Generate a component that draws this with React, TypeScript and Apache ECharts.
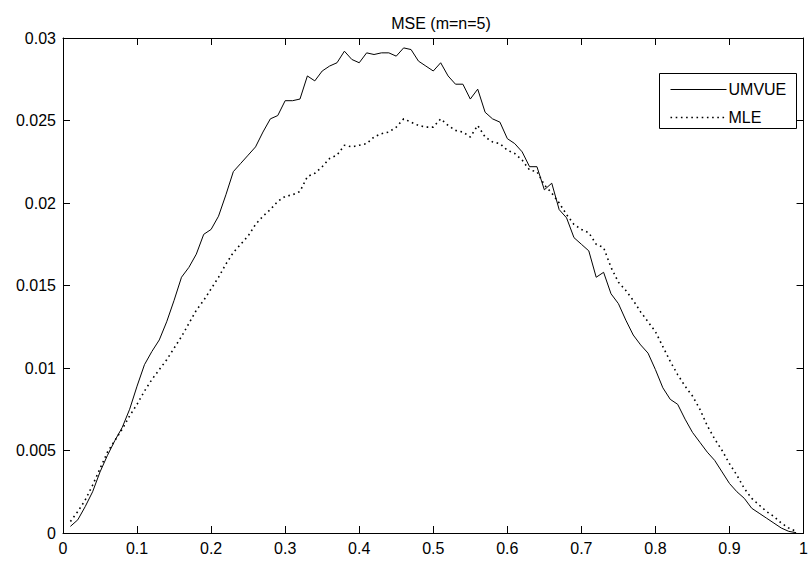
import React, { useEffect, useRef } from "react";
import * as echarts from "echarts";

const TITLE = "MSE (m=n=5)";
const SERIES_NAMES = ["UMVUE", "MLE"];
const X_TICKS = [0, 0.1, 0.2, 0.3, 0.4, 0.5, 0.6, 0.7, 0.8, 0.9, 1];
const Y_TICKS = [0, 0.005, 0.01, 0.015, 0.02, 0.025, 0.03];

// p = 0.01 .. 0.99
const UMVUE = [
  0.0004, 0.0008, 0.0016, 0.0025, 0.0037, 0.0047, 0.0056, 0.0064, 0.0075, 0.0089,
  0.0102, 0.011, 0.0117, 0.0128, 0.0141, 0.0155, 0.0161, 0.0169, 0.0181, 0.0184,
  0.0192, 0.0205, 0.0219, 0.0224, 0.0229, 0.0234, 0.0243, 0.0251, 0.0253, 0.0262,
  0.0262, 0.0263, 0.0277, 0.0274, 0.028, 0.0283, 0.0285, 0.0292, 0.0287, 0.0285,
  0.0291, 0.029, 0.0291, 0.0291, 0.0289, 0.0294, 0.0293, 0.0286, 0.0283, 0.028,
  0.0285, 0.0277, 0.0272, 0.0272, 0.0263, 0.0269, 0.0255, 0.0251, 0.0249, 0.0239,
  0.0236, 0.0231, 0.0222, 0.0222, 0.0208, 0.0212, 0.0196, 0.0191, 0.0179, 0.0175,
  0.0171, 0.0155, 0.0158, 0.0145, 0.0139, 0.0129, 0.012, 0.0114, 0.0109, 0.0099,
  0.0088, 0.0081, 0.0078, 0.0069, 0.0061, 0.0055, 0.0049, 0.0044, 0.0037, 0.003,
  0.0025, 0.0021, 0.0015, 0.0012, 0.0009, 0.0006, 0.0003, 0.0001, 0.00002,
];

const MLE = [
  0.0007, 0.0013, 0.002, 0.0029, 0.0039, 0.0049, 0.0056, 0.0063, 0.0071, 0.0078,
  0.0086, 0.0093, 0.0099, 0.0105, 0.0112, 0.0119, 0.0127, 0.0135, 0.0141, 0.0148,
  0.0155, 0.0163, 0.017, 0.0175, 0.018, 0.0187, 0.0192, 0.0196, 0.0201, 0.0204,
  0.0205, 0.0207, 0.0216, 0.0218, 0.0222, 0.0227, 0.0229, 0.0235, 0.0234, 0.0235,
  0.0236, 0.024, 0.0242, 0.0243, 0.0246, 0.0251, 0.0249, 0.0247, 0.0246, 0.0246,
  0.0251, 0.0247, 0.0244, 0.0243, 0.024, 0.0247, 0.024, 0.0237, 0.0236, 0.0232,
  0.023, 0.0226, 0.022, 0.0219, 0.0211, 0.0206, 0.02, 0.0193, 0.0187, 0.0184,
  0.0182, 0.0175, 0.0173, 0.0161, 0.0152, 0.0147, 0.0141, 0.0134, 0.0128, 0.0122,
  0.0113, 0.0104, 0.0096, 0.0089, 0.0083, 0.0075, 0.0065, 0.0057, 0.005, 0.0042,
  0.0035, 0.0027, 0.0021, 0.0017, 0.0013, 0.001, 0.0006, 0.0003, 0.0001,
];

const P = UMVUE.map((_, i) => (i + 1) / 100);

const FONT = "'Liberation Sans', Arial, Helvetica, sans-serif";
const fmt = (v: number) => String(+v.toFixed(3));

export default function App() {
  const ref = useRef<HTMLDivElement>(null);
  useEffect(() => {
    if (!ref.current) return;
    const chart = echarts.init(ref.current, undefined, { renderer: "svg" });
    const axisCommon = {
      type: "value" as const,
      axisLine: { show: true, onZero: false, lineStyle: { color: "#000", width: 1 } },
      axisTick: { show: true, inside: true, length: 7, lineStyle: { color: "#000", width: 1 } },
      splitLine: { show: false },
    };
    chart.setOption({
      animation: false,
      backgroundColor: "#fff",
      title: {
        text: TITLE,
        left: 436,
        textAlign: "center",
        top: 10,
        textStyle: { fontSize: 16, fontWeight: "normal", color: "#000", fontFamily: FONT },
      },
      grid: { left: 63, right: 2, top: 38, bottom: 32, containLabel: false },
      xAxis: [
        {
          ...axisCommon,
          position: "bottom",
          min: X_TICKS[0],
          max: X_TICKS[X_TICKS.length - 1],
          interval: 0.1,
          axisLabel: { color: "#000", fontSize: 16, fontFamily: FONT, margin: 7, formatter: fmt, showMaxLabel: true, showMinLabel: true },
        },
        {
          ...axisCommon,
          position: "top",
          min: X_TICKS[0],
          max: X_TICKS[X_TICKS.length - 1],
          interval: 0.1,
          axisLabel: { show: false },
        },
      ],
      yAxis: [
        {
          ...axisCommon,
          position: "left",
          min: Y_TICKS[0],
          max: Y_TICKS[Y_TICKS.length - 1],
          interval: 0.005,
          axisLabel: { color: "#000", fontSize: 16, fontFamily: FONT, margin: 7, formatter: fmt, showMaxLabel: true, showMinLabel: true },
        },
        {
          ...axisCommon,
          position: "right",
          min: Y_TICKS[0],
          max: Y_TICKS[Y_TICKS.length - 1],
          interval: 0.005,
          axisLabel: { show: false },
        },
      ],
      series: [
        {
          name: SERIES_NAMES[0],
          type: "line",
          symbol: "none",
          data: P.map((p, i) => [p, UMVUE[i]]),
          lineStyle: { color: "#000", width: 1, type: "solid" },
          z: 3,
        },
        {
          name: SERIES_NAMES[1],
          type: "line",
          symbol: "none",
          data: P.map((p, i) => [p, MLE[i]]),
          lineStyle: { color: "#000", width: 1.6, type: [1.6, 3.6] },
          z: 2,
        },
      ],
      graphic: [
        {
          type: "group",
          left: 659,
          top: 73,
          children: [
            { type: "rect", shape: { x: 0, y: 0, width: 137, height: 55 }, style: { fill: "#fff", stroke: "#000", lineWidth: 1 } },
            { type: "line", shape: { x1: 11, y1: 16, x2: 67, y2: 16 }, style: { stroke: "#000", lineWidth: 1 } },
            { type: "line", shape: { x1: 11, y1: 44, x2: 67, y2: 44 }, style: { stroke: "#000", lineWidth: 1.6, lineDash: [1.6, 3.6] } },
            { type: "text", x: 69, y: 16, style: { text: SERIES_NAMES[0], fill: "#000", font: `16px ${FONT}`, verticalAlign: "middle", align: "left" } },
            { type: "text", x: 69, y: 44, style: { text: SERIES_NAMES[1], fill: "#000", font: `16px ${FONT}`, verticalAlign: "middle", align: "left" } },
          ],
        },
      ],
    });
    return () => chart.dispose();
  }, []);
  return <div ref={ref} style={{ position: "fixed", left: 0, top: 0, width: 811, height: 565 }} />;
}
